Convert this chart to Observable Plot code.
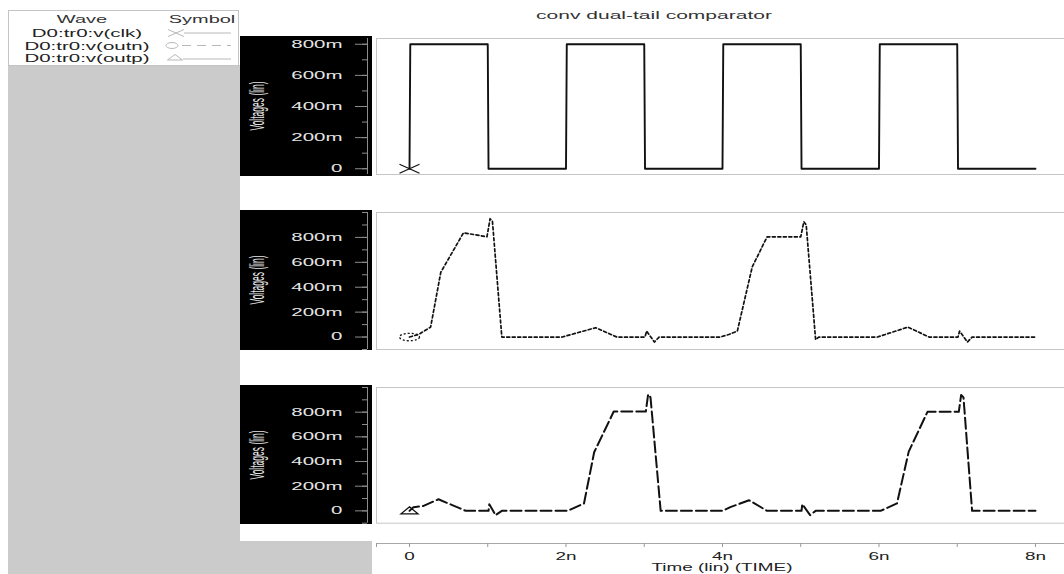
<!DOCTYPE html>
<html><head><meta charset="utf-8">
<script src="https://cdn.jsdelivr.net/npm/d3@7"></script>
<script src="https://cdn.jsdelivr.net/npm/@observablehq/plot@0.6"></script>
<style>
html,body{margin:0;padding:0;background:#fff;}
#root{position:relative;width:1064px;height:574px;overflow:hidden;font-family:"Liberation Sans",Arial,sans-serif;}
.box{position:absolute;}
.txt{position:absolute;white-space:nowrap;line-height:1;}
</style></head>
<body><div id="root"></div>
<script>
// ---------- data (time in ns, voltage in V) ----------
const timeTicks = [0, 1, 2, 3, 4, 5, 6, 7, 8];
const timeLabels = [0, 2, 4, 6, 8];
const voltLabels = [0, 0.2, 0.4, 0.6, 0.8];
const voltMinor1 = [0, 0.1, 0.2, 0.3, 0.4, 0.5, 0.6, 0.7, 0.8];
const voltMinor2 = [-0.1, 0, 0.1, 0.2, 0.3, 0.4, 0.5, 0.6, 0.7, 0.8, 0.9, 1.0];

const clkT = [0, 0.01, 1.0, 1.01, 2.0, 2.01, 3.0, 3.01, 4.0, 4.01, 5.0, 5.01, 6.0, 6.01, 7.0, 7.01, 8.0];
const clkV = [0, 0.8, 0.8, 0, 0, 0.8, 0.8, 0, 0, 0.8, 0.8, 0, 0, 0.8, 0.8, 0, 0];

const outnT = [0, 0.12, 0.27, 0.40, 0.69, 0.99, 1.03, 1.06, 1.18, 1.95, 2.38, 2.65, 3.01, 3.03, 3.13, 3.19, 3.97, 4.08, 4.19, 4.38, 4.57, 5.0, 5.04, 5.07, 5.19, 5.23, 5.98, 6.37, 6.64, 7.01, 7.03, 7.13, 7.19, 8.0];
const outnV = [0, 0.022, 0.08, 0.52, 0.837, 0.805, 0.95, 0.93, 0.0, 0.0, 0.075, 0.0, 0.0, 0.048, -0.04, 0.0, 0.0, 0.02, 0.048, 0.563, 0.805, 0.805, 0.926, 0.9, -0.021, 0.0, 0.0, 0.08, 0.0, 0.0, 0.048, -0.04, 0.0, 0.0];

const outpT = [0, 0.05, 0.18, 0.37, 0.72, 1.01, 1.02, 1.10, 1.18, 2.02, 2.23, 2.36, 2.61, 3.02, 3.05, 3.08, 3.21, 4.0, 4.1, 4.34, 4.57, 5.01, 5.02, 5.12, 5.19, 6.02, 6.23, 6.38, 6.62, 7.02, 7.05, 7.08, 7.19, 8.0];
const outpV = [0, 0.03, 0.04, 0.094, 0.0, 0.0, 0.054, -0.035, 0.0, 0.0, 0.06, 0.475, 0.805, 0.805, 0.945, 0.92, 0.0, 0.0, 0.03, 0.086, 0.0, 0.0, 0.054, -0.035, 0.0, 0.0, 0.06, 0.48, 0.803, 0.803, 0.94, 0.92, 0.0, 0.0];

const waveNames = ["D0:tr0:v(clk)", "D0:tr0:v(outn)", "D0:tr0:v(outp)"];
const titleText = "conv dual-tail comparator";
const yLabelText = "Voltages (lin)";
const xLabelText = "Time (lin) (TIME)";

// ---------- layout ----------
const root = document.getElementById("root");
const W = 828;              // svg width (left edge at page x 240)
const ML = 136;             // frame left at page x 376
const xDomain = [-0.4217, 8.422];
const FONT = "Liberation Sans, Arial, sans-serif";

function box(left, top, w, h, bg, extra) {
  const d = document.createElement("div");
  d.className = "box";
  Object.assign(d.style, {left: left + "px", top: top + "px", width: w + "px", height: h + "px", background: bg}, extra || {});
  root.appendChild(d);
  return d;
}
function text(str, cx, cy, size, color, transform, parent) {
  const d = document.createElement("div");
  d.className = "txt";
  d.textContent = str;
  Object.assign(d.style, {left: cx + "px", top: cy + "px", fontSize: size + "px", color,
    transform: "translate(-50%,-50%) " + transform, transformOrigin: "50% 50%"});
  (parent || root).appendChild(d);
  return d;
}
// stretch SVG tick labels horizontally around their anchor (keeps Plot's translate)
function widen(svg, selector, sx) {
  svg.querySelectorAll(selector).forEach(t => {
    const tr = t.getAttribute("transform") || "";
    t.setAttribute("transform", tr + ` scale(${sx},1)`);
  });
}

// custom stretched symbols
const symTimes = {draw(c) { c.moveTo(-10, -4.5); c.lineTo(10, 4.5); c.moveTo(10, -4.5); c.lineTo(-10, 4.5); }};
const symEllipse = {draw(c) {
  const rx = 10, ry = 3.7, k = 0.5523;
  c.moveTo(rx, 0);
  c.bezierCurveTo(rx, ry * k, rx * k, ry, 0, ry);
  c.bezierCurveTo(-rx * k, ry, -rx, ry * k, -rx, 0);
  c.bezierCurveTo(-rx, -ry * k, -rx * k, -ry, 0, -ry);
  c.bezierCurveTo(rx * k, -ry, rx, -ry * k, rx, 0);
  c.closePath();
}};
const symTri = {draw(c) { c.moveTo(0, -4); c.lineTo(8.5, 3); c.lineTo(-8.5, 3); c.closePath(); }};

// backgrounds
box(8, 65, 232, 509, "#cbcbcb");
box(240, 541, 132, 33, "#cbcbcb");

// legend
const leg = box(8, 10, 229, 54, "#fff", {border: "1px solid #c4c4c4"});
text("Wave", 73, 8, 10.5, "#333", "scaleX(1.9)", leg);
text("Symbol", 193, 8, 10.5, "#333", "scaleX(1.9)", leg);
waveNames.forEach((n, i) => text(n, 78, 22 + i * 12.6, 10.5, "#222", "scaleX(1.95)", leg));
const legSvg = document.createElementNS("http://www.w3.org/2000/svg", "svg");
legSvg.setAttribute("width", 229); legSvg.setAttribute("height", 54);
legSvg.style.position = "absolute"; legSvg.style.left = "0"; legSvg.style.top = "0";
legSvg.innerHTML = `
 <g stroke="#b8b8b8" fill="none" stroke-width="1">
  <path d="M159,18.5 L175,25.5 M175,18.5 L159,25.5"/><path d="M175,22 L222,22"/>
  <ellipse cx="163" cy="34.5" rx="6" ry="3"/><path d="M173,34.5 L222,34.5" stroke-dasharray="9,6"/>
  <path d="M166,43.5 L173.5,49 L158.5,49 Z"/><path d="M174,48 L222,48"/>
 </g>`;
leg.appendChild(legSvg);

// title
text(titleText, 654, 15, 10.5, "#333", "scaleX(2.0)");

const fmtV = v => v === 0 ? "0" : Math.round(v * 1000) + "m";
const fmtT = t => t === 0 ? "0" : t + "n";

function panel({T, V, yDomain, minor, top, height, mt, mb, dash, sw, symbol, markerDash}) {
  box(240, top, 132, height, "#000");
  text(yLabelText, 258, top + height / 2, 8.5, "#e6e6e6", "scaleX(2.3) rotate(-90deg)");
  const data = T.map((t, i) => ({t, v: V[i]}));
  const svg = Plot.plot({
    width: W, height, marginLeft: ML, marginRight: 0, marginTop: mt, marginBottom: mb,
    style: {background: "transparent", fontFamily: FONT, fontSize: "10.5px", overflow: "visible"},
    x: {domain: xDomain, axis: null},
    y: {domain: yDomain, axis: null},
    marks: [
      Plot.frame({stroke: "#c6c6c6"}),
      Plot.ruleX([xDomain[0]], {dx: -9, stroke: "#8c8c8c"}),
      Plot.axisY({ticks: minor, tickSize: 5, text: null, dx: -9, stroke: "#8c8c8c", label: null}),
      Plot.axisY({ticks: voltLabels, tickSize: 12, tickPadding: 13, dx: -9, stroke: "#8c8c8c",
        fill: "#e6e6e6", fontSize: 10.5, tickFormat: fmtV, label: null}),
      Plot.line(data, {x: "t", y: "v", stroke: "#111", strokeWidth: sw, strokeDasharray: dash}),
      Plot.dot(data.slice(0, 1), {x: "t", y: "v", symbol, stroke: "#111", strokeWidth: 1.3,
        strokeDasharray: markerDash, fill: "none"})
    ]
  });
  svg.style.position = "absolute";
  svg.style.left = "240px";
  svg.style.top = top + "px";
  widen(svg, 'g[aria-label="y-axis tick label"] text', 1.95);
  root.appendChild(svg);
}

panel({T: clkT, V: clkV, yDomain: [-0.037, 0.837], minor: voltMinor1, top: 36, height: 140, mt: 2, mb: 2,
  dash: null, sw: 1.9, symbol: symTimes, markerDash: null});
panel({T: outnT, V: outnV, yDomain: [-0.1, 1.0], minor: voltMinor2, top: 210, height: 140, mt: 2, mb: 1,
  dash: "3,2.5", sw: 1.7, symbol: symEllipse, markerDash: "2,2"});
panel({T: outpT, V: outpV, yDomain: [-0.1, 1.0], minor: voltMinor2, top: 385, height: 139, mt: 2, mb: 1.3,
  dash: "11,4", sw: 2, symbol: symTri, markerDash: null});

// x axis
const xa = Plot.plot({
  width: W, height: 44, marginLeft: ML, marginRight: 0, marginTop: 0, marginBottom: 31,
  style: {background: "transparent", fontFamily: FONT, fontSize: "10.5px", overflow: "visible"},
  x: {domain: xDomain, axis: null},
  y: {domain: [0, 1], axis: null},
  marks: [
    Plot.ruleY([0], {stroke: "#a8a8a8"}),
    Plot.axisX({ticks: [xDomain[0], ...timeTicks], tickSize: 4, text: null, stroke: "#999", label: null}),
    Plot.axisX({ticks: timeLabels, tickSize: 0, tickPadding: 9.5, tickFormat: fmtT, fill: "#222", label: null})
  ]
});
xa.style.position = "absolute";
xa.style.left = "240px";
xa.style.top = "530px";
widen(xa, 'g[aria-label="x-axis tick label"] text', 1.8);
root.appendChild(xa);
text(xLabelText, 722, 567, 10.5, "#222", "scaleX(1.8)");
</script>
</body></html>
